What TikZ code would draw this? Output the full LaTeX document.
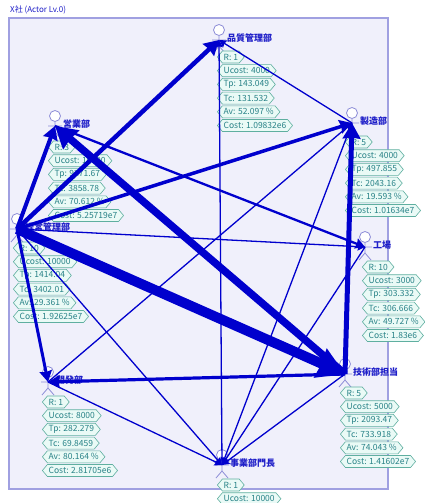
\documentclass[tikz,border=0pt]{standalone}
\usepackage{fontspec}
\setmainfont{Noto Sans CJK JP}
\usetikzlibrary{arrows.meta,shapes.symbols}
\definecolor{lineblue}{RGB}{0,0,205}
\definecolor{framefill}{RGB}{240,240,251}
\definecolor{framedraw}{RGB}{160,160,225}
\definecolor{tagfill}{RGB}{234,250,246}
\definecolor{tagdraw}{RGB}{95,175,160}
\definecolor{tagtext}{RGB}{40,130,135}
\definecolor{nameblue}{RGB}{30,30,200}
\definecolor{actorc}{RGB}{140,140,215}
\newcommand\actorfig[4]{%
  \coordinate (#1) at (#2,#3+10);
  \draw[actorc, line width=0.8pt] (#2,#3+6) -- (#2,#3+16) (#2-7,#3+10) -- (#2+7,#3+10) (#2-6,#3+23) -- (#2,#3+16) -- (#2+6,#3+23);
  \node[circle, draw=actorc, fill=white, minimum size=11pt, inner sep=0pt, line width=0.8pt] (#1h) at (#2,#3) {};
  \node[aname] (#1n) at (#2+8,#3+8) {#4};
}
\newcommand\tagstack[4]{%
  \foreach \t [count=\i] in {#4} {
    \node[tag] (#1\i) at (#2,#3+13.7*\i-13.7) {\t};
  }
}
\begin{document}
\begin{tikzpicture}[x=1pt,y=-1pt,
  tag/.style={shape=signal, signal to=west and east, signal pointer angle=100,
    draw=tagdraw, fill=tagfill, text=tagtext, font=\fontsize{8.5}{9.5}\selectfont,
    inner xsep=1.2pt, inner ysep=0.6pt, minimum height=12pt, line width=0.6pt, anchor=west},
  aname/.style={font=\fontsize{9}{10}\selectfont\bfseries, text=nameblue, anchor=west, inner sep=0pt},
  link/.style={draw=lineblue, line width=#1pt, -{Stealth[length=4.5pt 2.2, width=4.5pt 2.6, inset=1pt]}},
]
\useasboundingbox (0,0) rectangle (424,503);
\fill[white] (0,0) rectangle (424,503);
\node[anchor=west, inner sep=0pt, text=nameblue, font=\fontsize{8}{9}\selectfont] (title) at (10,10) {X社 (Actor Lv.0)};
\draw[framedraw, fill=framefill, line width=1.4pt] (9,18) rectangle (388,489);

\actorfig{Q}{219}{30}{品質管理部}
\actorfig{M}{352}{113}{製造部}
\actorfig{S}{55}{116}{営業部}
\actorfig{K}{17}{219}{経営管理部}
\actorfig{F}{365}{237}{工場}
\actorfig{T}{345}{364}{技術部担当}
\actorfig{R}{48}{372}{開発部}
\actorfig{J}{222}{455}{事業部門長}

\tagstack{Qt}{217}{57}{R: 1,Ucost: 4000,Tp: 143.049,Tc: 131.532,Av: 52.097 \%,Cost: 1.09832e6}
\tagstack{Mt}{345}{142}{R: 5,Ucost: 4000,Tp: 497.855,Tc: 2043.16,Av: 19.593 \%,Cost: 1.01634e7}
\tagstack{St}{48}{147}{R: 3,Ucost: 10000,Tp: 9271.67,Tc: 3858.78,Av: 70.612 \%,Cost: 5.25719e7}
\tagstack{Kt}{13}{248}{R: 10,Ucost: 10000,Tp: 1414.04,Tc: 3402.01,Av: 29.361 \%,Cost: 1.92625e7}
\tagstack{Ft}{362}{267}{R: 10,Ucost: 3000,Tp: 303.332,Tc: 306.666,Av: 49.727 \%,Cost: 1.83e6}
\tagstack{Tt}{340}{393}{R: 5,Ucost: 5000,Tp: 2093.47,Tc: 733.918,Av: 74.043 \%,Cost: 1.41602e7}
\tagstack{Rt}{42}{402}{R: 1,Ucost: 8000,Tp: 282.279,Tc: 69.8459,Av: 80.164 \%,Cost: 2.81705e6}
\tagstack{Jt}{217}{485}{R: 1,Ucost: 10000}

% thin connectors
\draw[link=1.3] (M) -- (Q);
\draw[link=1.3] (J) -- (Q);
\draw[link=1.3] (R) -- (M);
\draw[link=1.3] (M) -- (J);
\draw[link=1.3] (F) -- (J);
\draw[link=1.3] (T) -- (J);
\draw[link=1.3] (K) -- (J);
\draw[link=1.3] (R) -- (J);
\draw[link=1.3] (K) -- (F);
% medium connectors
\draw[link=2.3] (S) -- (F);
\draw[link=3] (K) -- (R);
\draw[link=3.2] (T) -- (R);
\draw[link=3.5] (K) -- (M);
\draw[link=4] (K) -- (S);
\draw[link=4.5] (K) -- (Q);
\draw[link=5] (T) -- (M);
% thick connectors
\draw[link=7.5] (T) -- (S);
\draw[link=10] (K) -- (T);
\end{tikzpicture}
\end{document}
